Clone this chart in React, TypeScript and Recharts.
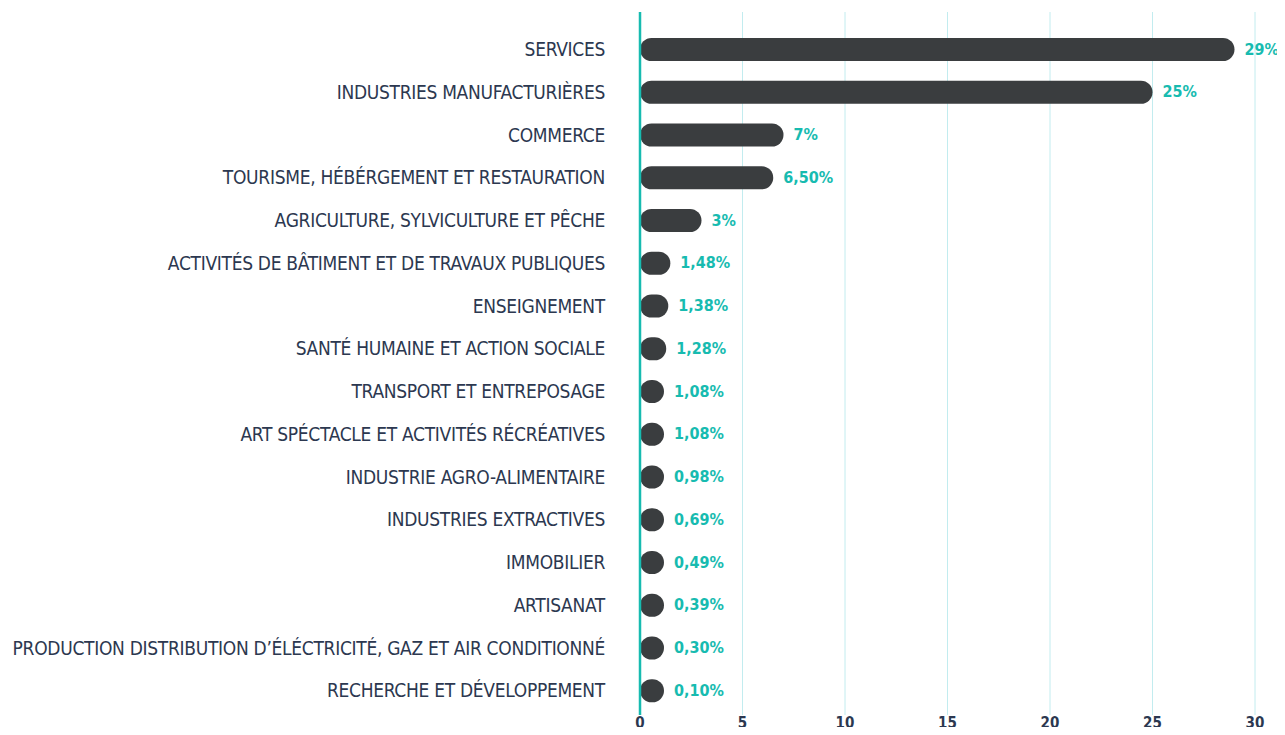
import React from 'react';
import { BarChart, Bar, XAxis, YAxis, CartesianGrid, LabelList } from 'recharts';

const categories = [
  'SERVICES',
  'INDUSTRIES MANUFACTURIÈRES',
  'COMMERCE',
  'TOURISME, HÉBÉRGEMENT ET RESTAURATION',
  'AGRICULTURE, SYLVICULTURE ET PÊCHE',
  'ACTIVITÉS DE BÂTIMENT ET DE TRAVAUX PUBLIQUES',
  'ENSEIGNEMENT',
  'SANTÉ HUMAINE ET ACTION SOCIALE',
  'TRANSPORT ET ENTREPOSAGE',
  'ART SPÉCTACLE ET ACTIVITÉS RÉCRÉATIVES',
  'INDUSTRIE AGRO-ALIMENTAIRE',
  'INDUSTRIES EXTRACTIVES',
  'IMMOBILIER',
  'ARTISANAT',
  'PRODUCTION DISTRIBUTION D\u2019ÉLÉCTRICITÉ, GAZ ET AIR CONDITIONNÉ',
  'RECHERCHE ET DÉVELOPPEMENT',
];
const values = [29, 25, 7, 6.5, 3, 1.48, 1.38, 1.28, 1.08, 1.08, 0.98, 0.69, 0.49, 0.39, 0.3, 0.1];
const valueLabels = ['29%', '25%', '7%', '6,50%', '3%', '1,48%', '1,38%', '1,28%', '1,08%', '1,08%', '0,98%', '0,69%', '0,49%', '0,39%', '0,30%', '0,10%'];
const xTicks = [0, 5, 10, 15, 20, 25, 30];

const data = categories.map((c, i) => ({ name: c, value: values[i], label: valueLabels[i] }));

const FONT = '"DejaVu Sans Condensed", "Liberation Sans Narrow", sans-serif';
const NAVY = '#2c3850';
const TEAL = '#17bbb0';
const BAR = '#3a3d3f';
const MINW = 24;

const PillShape = (props: any) => {
  const { x, y, width, height } = props;
  const w = Math.max(width, MINW);
  const r = height / 2;
  return <rect x={x} y={y} width={w} height={height} rx={r} ry={r} fill={BAR} />;
};

const ValueLabel = (props: any) => {
  const { x, y, width, height, value } = props;
  const w = Math.max(width, MINW);
  return (
    <text x={x + w + 10} y={y + height / 2} dy={5} fill={TEAL} fontFamily={FONT} fontWeight={700} fontSize={16}>
      {value}
    </text>
  );
};

export default function App() {
  return (
    <div style={{ margin: -8 }}>
      <BarChart
        width={1285}
        height={735}
        data={data}
        layout="vertical"
        margin={{ top: 12, right: 30, bottom: 0, left: 0 }}
        barCategoryGap={10}
      >
        <CartesianGrid horizontal={false} vertical stroke="#c2ecef" strokeWidth={1} />
        <XAxis
          type="number"
          domain={[0, 30]}
          ticks={xTicks}
          axisLine={false}
          tickLine={false}
          height={20}
          tickSize={0}
          tickMargin={2}
          tick={{ fill: NAVY, fontFamily: FONT, fontWeight: 700, fontSize: 15 }}
        />
        <YAxis
          type="category"
          dataKey="name"
          width={640}
          tickLine={false}
          tickSize={0}
          tickMargin={35}
          axisLine={{ stroke: TEAL, strokeWidth: 2.5 }}
          padding={{ top: 16, bottom: 3 }}
          interval={0}
          tick={{ fill: NAVY, fontFamily: FONT, fontSize: 19, letterSpacing: -0.3 }}
        />
        <Bar dataKey="value" shape={PillShape} isAnimationActive={false}>
          <LabelList dataKey="label" content={ValueLabel} />
        </Bar>
      </BarChart>
    </div>
  );
}
